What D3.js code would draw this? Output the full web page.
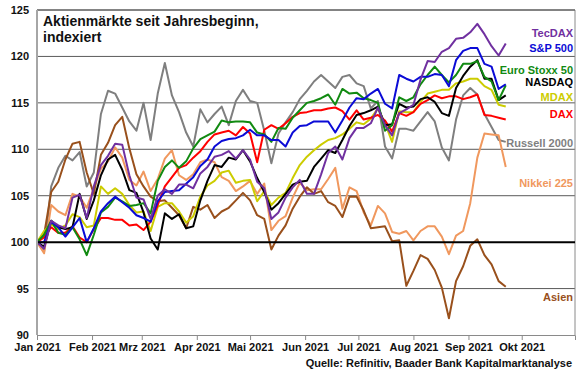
<!DOCTYPE html>
<html>
<head>
<meta charset="utf-8">
<script src="https://cdn.jsdelivr.net/npm/d3@7"></script>
<style>
  body { margin: 0; background: #fff; }
  svg { display: block; font-family: "Liberation Sans", Arial, sans-serif; }
</style>
</head>
<body>
<div id="chart"></div>
<script>
// sample dates (2021), every 4 days from Jan 1 to Sep 22
const dates = ["01-01","01-05","01-09","01-13","01-17","01-21","01-25","01-29","02-02","02-06",
  "02-10","02-14","02-18","02-22","02-26","03-02","03-06","03-10","03-14","03-18",
  "03-22","03-26","03-30","04-03","04-07","04-11","04-15","04-19","04-23","04-27",
  "05-01","05-05","05-09","05-13","05-17","05-21","05-25","05-29","06-02","06-06",
  "06-10","06-14","06-18","06-22","06-26","06-30","07-04","07-08","07-12","07-16",
  "07-20","07-24","07-28","08-01","08-05","08-09","08-13","08-17","08-21","08-25",
  "08-29","09-02","09-06","09-10","09-14","09-18","09-22"];

const russell = [100,99,106,108,109.3,108.8,109.7,106,107.5,113.8,
  116.3,116,114.5,113,112,115,111,116,119.3,115.8,
  114,111.8,110.3,114.3,112.9,113.8,114.6,112.6,115.2,116.4,
  115.2,115,112,108.5,111.7,112.9,114,115.4,116.3,117.3,
  118,117.3,116.6,117.8,118,117.1,116.8,114.4,115.2,110.3,
  109,112.2,112.2,112,113,114,113,110.2,108.8,113.2,
  115.8,116.6,115.9,113.8,112.4,111,110.8];

const tecdax = [100,99.3,102.3,101.8,101.5,104.8,105.1,102.6,106,108.3,
  109.3,110.6,110.5,107.2,104.8,104.6,102.5,105,105.7,105.2,
  106.2,106.2,105.8,107.4,108.1,109.2,109.4,109.8,109,109.9,
  108.9,106.5,105.8,102.5,103.2,104.8,105.9,106.7,105.2,105.2,
  107.3,109.6,110.3,108.9,111.2,112.3,112.3,112.8,114.5,112.6,
  111.5,113.9,114.3,114.8,117.5,119.5,119.4,120.5,120.9,121.9,
  122,122.6,123.5,122.4,121.1,120.1,121.4];

const sp500 = [100,100,102.2,101.6,100.6,101.6,102.6,100,101.5,103.3,
  104.2,104.9,104.3,103.7,102.9,102.6,102.2,104.4,105.4,105.5,
  105.6,106.3,107,108.2,108.9,110.3,110.9,111.1,111.2,111.5,
  112.1,111.5,111.5,111,111,110.3,111.8,112.5,112.6,113,
  113,113,111.8,113.1,114.5,115.5,115.4,116,116.5,114.9,
  114.4,118,117.6,117.3,117.8,117.8,118.1,118,116.8,119.6,
  120.6,120.9,120.9,119.2,118.9,116.5,117];

const stoxx = [100,100.8,102.3,101,100.8,101.6,100.3,98.6,100.8,103.2,
  103.8,104.8,104.4,103.9,104,104.2,103.1,106.6,108.1,108.8,
  108,108.7,110.1,111.1,111.5,111.9,113.1,112.9,113,113,
  112.9,111.8,111.6,110.8,112.3,112.2,113.4,114.2,115,115.2,
  115.5,115.9,114.8,116.5,116,116.1,115.5,115.3,115,112,
  112.6,115.6,115.2,115.6,117,118,118.9,118,117.2,118,
  119.2,119.2,119.5,117.8,117.3,115.3,116.9];

const nasdaq = [100,99.5,102.3,101.6,101.4,101.6,105.2,102.5,104.5,107.2,
  108.9,109.4,107.8,105.6,105.3,103.2,100.4,99.2,103.1,102.5,
  103,101.5,101.7,104.5,106.6,108.3,108.1,109.1,108.9,109.9,
  108.7,106.9,105.4,103.5,104.2,105.2,106.2,106.5,106.6,108.1,
  109,109.9,109.6,111,112.5,113.7,113.9,114.2,114.6,112.6,
  112.7,114.9,114.5,114.6,115.4,115.6,115.1,113.9,113.6,116.6,
  117.9,118.9,119.6,117.6,117.6,115.3,115.8];

const mdax = [100,101.2,101.9,101.4,101.8,103,102.7,101.6,101.8,106,
  105.2,105.8,105.2,104,103.2,103.3,101.2,103.8,104.2,104.2,
  103.3,102.1,102.8,104.9,106.1,106.6,107.5,107.7,106.4,106.6,
  106.7,104.4,105.5,104,104.8,105.3,106.9,108.3,109.2,109.9,
  110.5,111,111.2,111.6,112.2,112.9,112.7,113.3,114.4,112.8,
  110.8,114.1,114,114,115.1,116,116.2,116.4,116.4,117.1,
  117.3,117.6,117.6,116.8,116.4,114.8,114.6];

const dax = [100,100.5,101.6,101,101,101.7,100.5,100,101.4,102.6,
  102.6,102.4,102.4,101.8,101.9,101.3,102.2,104,106,107,
  108,108.3,109.1,109.8,110.8,111.6,111.8,112,111.5,112.4,
  111.7,108.6,112.1,112.6,112.2,112.8,113.5,113.9,114,114.2,
  114.2,114.4,114.5,114.1,113.2,114.2,113.2,113.4,113.7,113.1,
  111.9,113.9,113.6,114,114.9,115.3,115.8,115.5,115.7,115.7,
  115.4,115.6,115.9,113.7,113.6,113.4,113.2];

const nikkei = [100,98.8,104,103.3,102.9,105.2,104.9,103.7,105.8,107.9,
  108.7,110.2,109.1,106.7,106.1,107.6,105.5,106.8,109,109.9,
  107.2,106.7,107.3,108.6,108.9,108.6,107,106.6,105.5,106,
  106.6,105.2,106.3,101.3,102.3,102.8,104.8,106.4,105.6,105.7,
  105.7,106.8,108,103.6,105.9,105.5,103.2,101.8,103.9,103.1,
  101.1,100.9,101.2,100.2,101.2,101.7,101.7,100.6,98.7,100.7,
  101.2,104.2,109.1,111.7,111.6,111.5,108.1];

const asien = [100,100.8,105.4,106.5,108.9,110.6,110.8,107.5,105.2,109.4,
  110.7,112.6,113.5,110.1,107.3,106,104.9,104.4,104.5,103.7,
  102.9,101.5,103.8,103.5,104,102.6,103.3,103.7,104.5,105.3,
  104.5,102.9,102.5,99.2,100.7,101.8,103.6,104.9,105.9,105.2,
  105.5,104.3,103.9,102.7,104.9,104.9,103.4,101.5,101.6,101.7,
  100.1,100.2,95.3,96.9,98.6,98.2,97,95.1,91.8,95.8,
  97.4,99.6,100.3,98.6,97.6,95.8,95.2];

const seriesNames = ["Russell 2000","Nikkei 225","Asien","MDAX","DAX","NASDAQ","Euro Stoxx 50","S&P 500","TecDAX"];
const seriesValues = [russell, nikkei, asien, mdax, dax, nasdaq, stoxx, sp500, tecdax];

const yTicks = [90, 95, 100, 105, 110, 115, 120, 125];
const monthLabels = ["Jan 2021","Feb 2021","Mrz 2021","Apr 2021","Mai 2021","Jun 2021",
  "Jul 2021","Aug 2021","Sep 2021","Okt 2021"];

// ---- drawing ----
const width = 580, height = 375;
const plotL = 37, plotR = 575, plotT = 10, plotB = 335;

const colors = {
  "TecDAX": "#7030a0", "S&P 500": "#0b0bd6", "Euro Stoxx 50": "#118a11", "NASDAQ": "#000000",
  "MDAX": "#cccc00", "DAX": "#ff0000", "Russell 2000": "#7f7f7f", "Nikkei 225": "#f0985e", "Asien": "#99501c"
};
// label anchor heights, in index units
const labelAt = [["TecDAX",122.5],["S&P 500",120.9],["Euro Stoxx 50",118.5],["NASDAQ",117.2],
  ["MDAX",115.6],["DAX",113.8],["Russell 2000",110.7],["Nikkei 225",106.4],["Asien",94.1]];

const parse = d3.timeParse("%Y-%m-%d");
const when = dates.map(d => parse("2021-" + d));

const x = d3.scaleTime()
  .domain([new Date(2021, 0, 1), new Date(2021, 9, 31)])
  .range([plotL, plotR]);
const y = d3.scaleLinear().domain([90, 125]).range([plotB, plotT]);

const svg = d3.select("#chart").append("svg")
  .attr("width", width).attr("height", height);

svg.append("rect").attr("width", width).attr("height", height).attr("fill", "#fff");

// grid
svg.append("g").selectAll("line")
  .data(yTicks.filter(t => t > 90 && t !== 100))
  .enter().append("line")
  .attr("x1", plotL).attr("x2", plotR)
  .attr("y1", d => y(d)).attr("y2", d => y(d))
  .attr("stroke", "#5a5a5a").attr("stroke-width", 1);

// right border
svg.append("line")
  .attr("x1", plotR).attr("x2", plotR).attr("y1", plotT).attr("y2", plotB)
  .attr("stroke", "#8a8a8a").attr("stroke-width", 1);

// y labels
const yAxis = svg.append("g")
  .attr("transform", `translate(${plotL},0)`)
  .call(d3.axisLeft(y).tickValues(yTicks).tickSize(0).tickPadding(8));
yAxis.select(".domain").remove();
yAxis.selectAll("text").attr("font-size", 11).attr("font-weight", "bold")
  .attr("fill", "#111").attr("font-family", "Liberation Sans, Arial, sans-serif");

// x axis
const monthStarts = monthLabels.map((m, i) => new Date(2021, i, 1));
const xAxis = svg.append("g")
  .attr("transform", `translate(0,${plotB})`)
  .call(d3.axisBottom(x).tickValues(monthStarts)
    .tickFormat((d, i) => monthLabels[i]).tickSize(5).tickPadding(3));
xAxis.select(".domain").attr("stroke", "#8a8a8a");
xAxis.selectAll("line").attr("stroke", "#8a8a8a");
xAxis.selectAll("text").attr("font-size", 11).attr("font-weight", "bold")
  .attr("fill", "#111").attr("font-family", "Liberation Sans, Arial, sans-serif");

// lines
const line = d3.line()
  .x((d, i) => x(when[i]))
  .y(d => y(d));

svg.append("g").selectAll("path")
  .data(seriesValues)
  .enter().append("path")
  .attr("d", d => line(d))
  .attr("fill", "none")
  .attr("stroke", (d, i) => colors[seriesNames[i]])
  .attr("stroke-width", 2)
  .attr("stroke-linejoin", "round");

// 100 line
svg.append("line")
  .attr("x1", plotL).attr("x2", plotR).attr("y1", y(100)).attr("y2", y(100))
  .attr("stroke", "#000").attr("stroke-width", 2);

// top border and left axis
svg.append("line")
  .attr("x1", plotL).attr("x2", plotR).attr("y1", y(125)).attr("y2", y(125))
  .attr("stroke", "#5a5a5a").attr("stroke-width", 1);
svg.append("line")
  .attr("x1", plotL).attr("x2", plotL).attr("y1", plotT).attr("y2", plotB)
  .attr("stroke", "#a6a6a6").attr("stroke-width", 2);

// series labels
svg.append("g").selectAll("text")
  .data(labelAt)
  .enter().append("text")
  .attr("x", 573)
  .attr("y", d => y(d[1]))
  .attr("dy", "0.35em")
  .attr("text-anchor", "end")
  .attr("font-size", 11).attr("font-weight", "bold")
  .attr("fill", d => colors[d[0]])
  .text(d => d[0]);

// title, two lines
svg.append("text").attr("x", 43).attr("y", 26)
  .attr("font-size", 14).attr("font-weight", "bold").attr("fill", "#111")
  .text("Aktienmärkte seit Jahresbeginn,");
svg.append("text").attr("x", 43).attr("y", 42)
  .attr("font-size", 14).attr("font-weight", "bold").attr("fill", "#111")
  .text("indexiert");

// source
svg.append("text").attr("x", 572).attr("y", 367)
  .attr("text-anchor", "end").attr("font-size", 11).attr("font-weight", "bold")
  .attr("fill", "#111")
  .text("Quelle: Refinitiv, Baader Bank Kapitalmarktanalyse");
</script>
</body>
</html>
